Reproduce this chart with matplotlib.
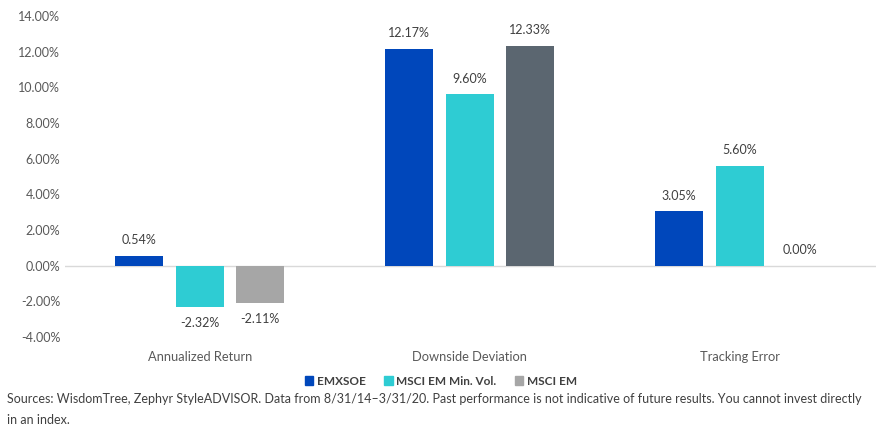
import numpy as np
import matplotlib.pyplot as plt

categories = ["Annualized Return", "Downside Deviation", "Tracking Error"]
series = ["EMXSOE", "MSCI EM Min. Vol.", "MSCI EM"]
emxsoe = [0.54, 12.17, 3.05]
min_vol = [-2.32, 9.60, 5.60]
msci_em = [-2.11, 12.33, 0.00]
yticks = [-4, -2, 0, 2, 4, 6, 8, 10, 12, 14]

colors = ["#0047BB", "#2ECCD3", "#A6A6A6"]
# the MSCI EM bar in the middle group is drawn in a darker slate
msci_colors = ["#A6A6A6", "#5B6670", "#A6A6A6"]

plt.rcParams['font.family'] = ['Lato', 'DejaVu Sans']
fig = plt.figure(figsize=(8.82, 4.4), dpi=100)
ax = fig.add_axes([0.0737, 0.234, 0.9193, 0.7296])

x = np.arange(len(categories))
w = 0.178
step = 0.224
vals = [emxsoe, min_vol, msci_em]
for i, v in enumerate(vals):
    c = msci_colors if i == 2 else colors[i]
    bars = ax.bar(x + (i - 1) * step, v, width=w, color=c, label=series[i])
    for b, val in zip(bars, v):
        xc = b.get_x() + b.get_width() / 2
        if val >= 0:
            ax.annotate(f"{val:.2f}%", (xc, val), xytext=(0, 7), textcoords="offset points",
                        ha="center", va="bottom", fontsize=9, color="#404040")
        else:
            ax.annotate(f"{val:.2f}%", (xc, val), xytext=(0, -7), textcoords="offset points",
                        ha="center", va="top", fontsize=9, color="#404040")

ax.axhline(0, color="#D9D9D9", lw=1, zorder=0)
ax.set_xlim(-0.5, 2.505)
ax.set_ylim(-4, 14)
ax.set_yticks(yticks)
ax.set_yticklabels([f"{t:.2f}%" for t in yticks], fontsize=9, color="#595959")
ax.set_xticks(x)
ax.set_xticklabels(categories, fontsize=9.3, color="#595959")
ax.tick_params(axis="both", length=0)
ax.tick_params(axis="x", pad=10)
for s in ax.spines.values():
    s.set_visible(False)

handles = [plt.Rectangle((0, 0), 1, 1, color=c) for c in colors]
leg = fig.legend(handles, series, loc="center", bbox_to_anchor=(0.5, 0.134), ncol=3, frameon=False,
                 handlelength=0.7, handleheight=0.7, handletextpad=0.3, columnspacing=1.6,
                 prop={"size": 8.5, "weight": "bold"})
for t in leg.get_texts():
    t.set_color("#404040")

fig.text(0.008, 0.093, "Sources: WisdomTree, Zephyr StyleADVISOR. Data from 8/31/14\u20133/31/20. Past performance is not indicative of future results. You cannot invest directly",
         fontsize=9, color="#404040", va="center")
fig.text(0.008, 0.045, "in an index.", fontsize=9, color="#404040", va="center")

fig.savefig("out.png", dpi=100)
